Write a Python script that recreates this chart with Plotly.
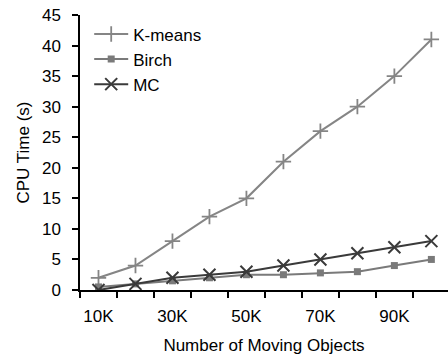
import plotly.graph_objects as go

# Number of moving objects (thousands)
objects_k = [10, 20, 30, 40, 50, 60, 70, 80, 90, 100]
tick_labels = ["10K", "30K", "50K", "70K", "90K"]
tick_positions = [10, 30, 50, 70, 90]

# CPU time in seconds
kmeans_time = [2, 4, 8, 12, 15, 21, 26, 30, 35, 41]
birch_time = [0.5, 1, 1.5, 2, 2.5, 2.5, 2.8, 3, 4, 5]
mc_time = [0, 1, 2, 2.5, 3, 4, 5, 6, 7, 8]

FONT = "Liberation Sans, Arial, sans-serif"

fig = go.Figure()
fig.add_trace(go.Scatter(
    x=objects_k, y=kmeans_time, name="K-means", mode="lines+markers",
    line=dict(color="#858585", width=2),
    marker=dict(symbol="cross-thin", size=11, color="#858585",
                line=dict(color="#858585", width=1.8)),
))
fig.add_trace(go.Scatter(
    x=objects_k, y=birch_time, name="Birch", mode="lines+markers",
    line=dict(color="#7a7a7a", width=2),
    marker=dict(symbol="square", size=7, color="#7a7a7a"),
))
fig.add_trace(go.Scatter(
    x=objects_k, y=mc_time, name="MC", mode="lines+markers",
    line=dict(color="#3a3a3a", width=2),
    marker=dict(symbol="x-thin", size=12, color="#3a3a3a",
                line=dict(color="#3a3a3a", width=2)),
))

fig.update_layout(
    width=448, height=355,
    margin=dict(l=80, r=0, t=15, b=65),
    paper_bgcolor="white", plot_bgcolor="white",
    font=dict(family=FONT, size=17, color="black"),
    showlegend=True,
    legend=dict(x=0.025, y=0.995, xanchor="left", yanchor="top",
                bgcolor="rgba(0,0,0,0)", font=dict(size=17),
                tracegroupgap=0, itemwidth=34),
    xaxis=dict(
        range=[5, 104.5], showgrid=False, zeroline=False,
        showline=True, linecolor="black", linewidth=1.5,
        tickmode="array", tickvals=tick_positions, ticktext=tick_labels,
        ticks="", ticklen=0, ticklabelstandoff=10,
        minor=dict(tickmode="linear", tick0=5, dtick=10, ticks="outside",
                   ticklen=6, tickwidth=1.5, tickcolor="black", showgrid=False),
        title=dict(text="Number of Moving Objects", font=dict(size=17), standoff=16),
        tickfont=dict(size=17),
    ),
    yaxis=dict(
        range=[0, 45], showgrid=False, zeroline=False,
        showline=True, linecolor="black", linewidth=1.5,
        tickmode="linear", tick0=0, dtick=5,
        ticks="outside", ticklen=6, tickwidth=1.5, tickcolor="black",
        ticklabelstandoff=8,
        title=dict(text="CPU Time (s)", font=dict(size=17), standoff=8),
        tickfont=dict(size=17),
    ),
)

fig.write_html("out.html")
